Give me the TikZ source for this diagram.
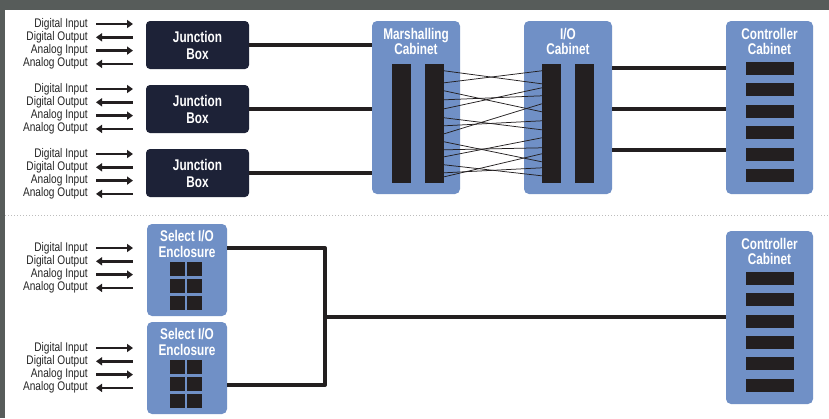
\documentclass[tikz,border=0pt]{standalone}
\usepackage{fontspec}
\setmainfont{Liberation Sans}
\newfontfamily\lblfont[FakeStretch=0.81]{Liberation Sans}
\newfontfamily\ttlfont[FakeStretch=0.76]{Liberation Sans}
\usetikzlibrary{arrows.meta,calc}

\definecolor{frameGray}{HTML}{575C5A}
\definecolor{cabBlue}{HTML}{7090C6}
\definecolor{jbNavy}{HTML}{1D2237}
\definecolor{barBlack}{HTML}{231F20}
\definecolor{lblText}{HTML}{262626}
\definecolor{sepGray}{HTML}{BDBDBD}

\tikzset{
  lbl/.style={font=\lblfont\fontsize{12.5}{13}\selectfont, text=lblText,
    anchor=east, inner sep=0pt, text height=9pt, text depth=3pt},
  inarr/.style={draw=barBlack, line width=2.4pt, -{Triangle[length=6pt,width=8pt]}},
  outarr/.style={draw=barBlack, line width=2.4pt, {Triangle[length=6pt,width=8pt]}-},
  jbox/.style={fill=jbNavy, rounded corners=4pt, minimum width=103pt,
    minimum height=48pt, inner sep=0pt, text=white, align=center,
    font=\ttlfont\bfseries\fontsize{15.5}{17}\selectfont},
  cab/.style={fill=cabBlue, rounded corners=5pt, inner sep=0pt},
  bar/.style={fill=barBlack, inner sep=0pt},
  ttl/.style={text=white, align=center, inner sep=0pt,
    font=\ttlfont\bfseries\fontsize{15.5}{15.5}\selectfont},
  heavy/.style={draw=barBlack, line width=4pt},
  xwire/.style={draw=barBlack, line width=0.75pt},
}

\begin{document}
\begin{tikzpicture}[x=1pt,y=-1pt]
  \useasboundingbox (0,0) rectangle (829,418);
  \fill[white] (0,0) rectangle (829,418);
  % frame bands
  \fill[frameGray] (0,0) rectangle (829,10);
  \fill[frameGray] (0,0) rectangle (5,418);
  % separator
  \draw[sepGray, line width=0.8pt, dash pattern=on 1pt off 2pt] (5,215) -- (829,215);

  % signal labels and arrows
  \foreach \gy [count=\g] in {24,89,154,248,348} {
    \node[lbl] (di\g) at (88,\gy) {Digital Input};
    \node[lbl] (do\g) at (88,\gy+13.3) {Digital Output};
    \node[lbl] (ai\g) at (88,\gy+26.6) {Analog Input};
    \node[lbl] (ao\g) at (88,\gy+39.9) {Analog Output};
    \draw[inarr]  ([xshift=8pt]di\g.east) -- ([xshift=45pt]di\g.east);
    \draw[outarr] ([xshift=8pt]do\g.east) -- ([xshift=45pt]do\g.east);
    \draw[inarr]  ([xshift=8pt]ai\g.east) -- ([xshift=45pt]ai\g.east);
    \draw[outarr] ([xshift=8pt]ao\g.east) -- ([xshift=45pt]ao\g.east);
  }

  % junction boxes
  \node[jbox] (jb1) at (197.5,45) {Junction\\Box};
  \node[jbox] (jb2) at (197.5,109) {Junction\\Box};
  \node[jbox] (jb3) at (197.5,173) {Junction\\Box};

  % marshalling cabinet
  \node[cab, minimum width=88pt, minimum height=173pt] (mc) at (416,107.5) {};
  \node[ttl] (mct) at (416,41.5) {Marshalling\\Cabinet};
  \node[bar, minimum width=19pt, minimum height=119pt] (mb1) at (401.5,123.5) {};
  \node[bar, minimum width=19pt, minimum height=119pt] (mb2) at (434.5,123.5) {};

  % I/O cabinet
  \node[cab, minimum width=88pt, minimum height=173pt] (ioc) at (568,107.5) {};
  \node[ttl] (ioct) at (568,41.5) {I/O\\Cabinet};
  \node[bar, minimum width=19pt, minimum height=119pt] (ib1) at (551.5,123.5) {};
  \node[bar, minimum width=19pt, minimum height=119pt] (ib2) at (584.5,123.5) {};

  % controller cabinet (upper)
  \node[cab, minimum width=87pt, minimum height=173pt] (cc1) at (769.5,107.5) {};
  \node[ttl] (cc1t) at (769.5,41.5) {Controller\\Cabinet};
  \foreach \k in {0,...,5}
    \node[bar, minimum width=48pt, minimum height=13pt] (cc1b\k) at (770,68.5+\k*21.4) {};

  % junction boxes to marshalling cabinet
  \draw[heavy] (jb1.east) -- (mc.west |- jb1.east);
  \draw[heavy] (jb2.east) -- (mc.west |- jb2.east);
  \draw[heavy] (jb3.east) -- (mc.west |- jb3.east);

  % cross wiring between terminal strips
  \foreach \a/\b in {71/84, 83/71, 91/112, 100/96, 109/88, 118/130, 126/121,
                     134/104, 142/162, 150/148, 157/138, 165/176, 173/168, 177/154}
    \draw[xwire] ($(mb2.north east)+(0,\a-64)$) -- ($(ib1.north west)+(0,\b-64)$);

  % I/O cabinet to controller
  \foreach \y [count=\i] in {68,109,150} {
    \coordinate (ioo\i) at (612,\y);
    \draw[heavy] (ioo\i) -- (cc1.west |- ioo\i);
  }

  % select I/O enclosures
  \foreach \cy [count=\e] in {270,368} {
    \node[cab, minimum width=80pt, minimum height=92pt] (se\e) at (187,\cy) {};
    \node[ttl] (se\e t) at (187,\cy-26) {Select I/O\\Enclosure};
    \foreach \r in {0,1,2} {
      \node[bar, minimum width=15pt, minimum height=14pt] (se\e a\r) at (177.5,\cy-1+\r*16.8) {};
      \node[bar, minimum width=15pt, minimum height=14pt] (se\e b\r) at (194.5,\cy-1+\r*16.8) {};
    }
  }

  % controller cabinet (lower)
  \node[cab, minimum width=87pt, minimum height=173pt] (cc2) at (769.5,317.5) {};
  \node[ttl] (cc2t) at (769.5,251.5) {Controller\\Cabinet};
  \foreach \k in {0,...,5}
    \node[bar, minimum width=48pt, minimum height=13pt] (cc2b\k) at (770,278.5+\k*21.3) {};

  % enclosures to controller
  \coordinate (bend1) at (325,248);
  \coordinate (bend2) at (325,385);
  \coordinate (tee) at (325,317);
  \draw[heavy, line join=round] (se1.east |- bend1) -- (bend1) -- (bend2) -- (se2.east |- bend2);
  \draw[heavy] (tee) -- (cc2.west |- tee);
\end{tikzpicture}
\end{document}
